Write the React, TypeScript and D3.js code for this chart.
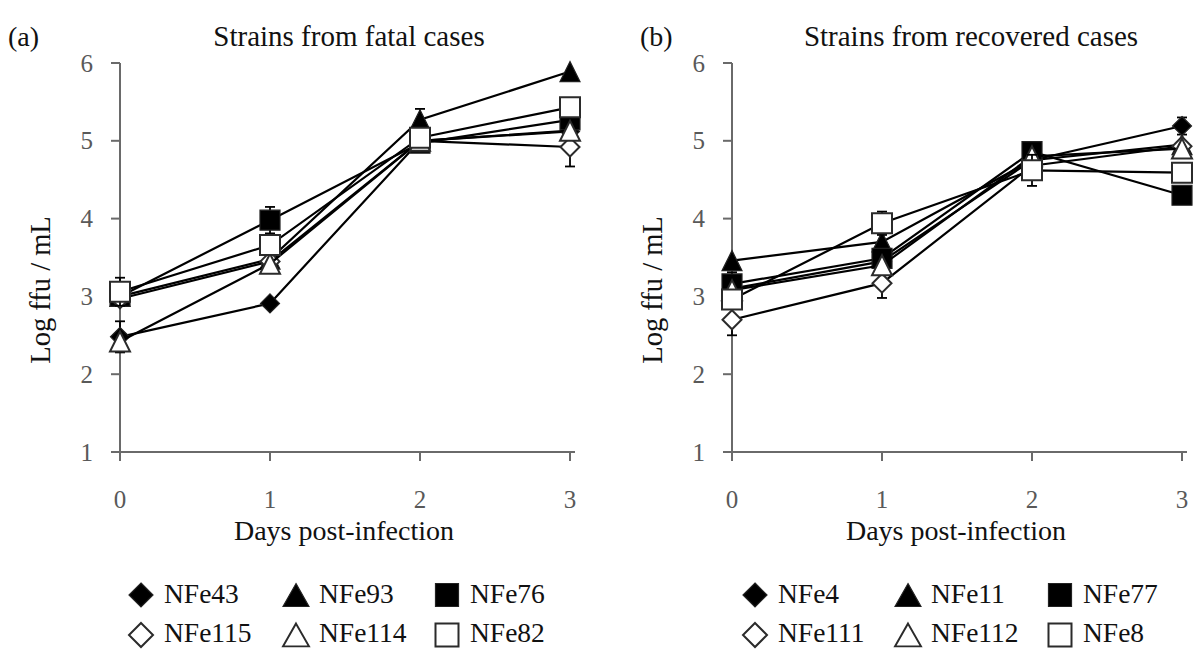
import React from "react";
import * as d3 from "d3";

// ---------- data ----------
const days = [0, 1, 2, 3];
const yTickValues = [1, 2, 3, 4, 5, 6];

// Panel (a): strains from fatal cases
const fatalTitle = "Strains from fatal cases";
const fatalNames = ["NFe43", "NFe93", "NFe76", "NFe115", "NFe114", "NFe82"];
const fatalNFe43 = [2.48, 2.91, 5.0, 5.12];
const fatalNFe93 = [3.0, 3.48, 5.27, 5.89];
const fatalNFe76 = [3.0, 3.98, 4.97, 5.27];
const fatalNFe115 = [2.97, 3.45, 5.0, 4.92];
const fatalNFe114 = [2.42, 3.42, 5.0, 5.13];
const fatalNFe82 = [3.06, 3.66, 5.04, 5.43];
const fatalErrNFe43 = [0.2, 0, 0, 0];
const fatalErrNFe93 = [0, 0, 0.14, 0];
const fatalErrNFe76 = [0, 0.17, 0, 0];
const fatalErrNFe115 = [0, 0, 0, 0.25];
const fatalErrNFe114 = [0, 0.12, 0, 0];
const fatalErrNFe82 = [0.18, 0, 0, 0];

// Panel (b): strains from recovered cases
const recTitle = "Strains from recovered cases";
const recNames = ["NFe4", "NFe11", "NFe77", "NFe111", "NFe112", "NFe8"];
const recNFe4 = [3.1, 3.45, 4.75, 5.19];
const recNFe11 = [3.46, 3.7, 4.75, 4.95];
const recNFe77 = [3.16, 3.49, 4.86, 4.3];
const recNFe111 = [2.7, 3.17, 4.68, 4.93];
const recNFe112 = [3.08, 3.4, 4.8, 4.9];
const recNFe8 = [2.96, 3.94, 4.62, 4.59];
const recErrNFe4 = [0, 0, 0, 0.11];
const recErrNFe11 = [0, 0, 0, 0];
const recErrNFe77 = [0.15, 0, 0.12, 0];
const recErrNFe111 = [0.2, 0.19, 0, 0];
const recErrNFe112 = [0, 0, 0, 0];
const recErrNFe8 = [0, 0.15, 0.2, 0];

const xTitle = "Days post-infection";
const yTitle = "Log ffu / mL";

// marker styles per series order
const shapes = ["diamond", "triangle", "square", "diamond", "triangle", "square"];
const filled = [true, true, true, false, false, false];

const FONT = "'Liberation Serif', 'Times New Roman', serif";
const AXIS_COLOR = "#6a6a6a";
const TICK_TEXT = "#595959";

function markerPath(shape: string, s: number): string {
  if (shape === "diamond") return `M0,${-s}L${s},0L0,${s}L${-s},0Z`;
  if (shape === "triangle") return `M0,${-s}L${s},${s}L${-s},${s}Z`;
  return `M${-s},${-s}H${s}V${s}H${-s}Z`;
}

function markerHalf(shape: string, legend: boolean): number {
  if (legend) return shape === "diamond" ? 12 : shape === "triangle" ? 13 : 11.5;
  return shape === "diamond" ? 9.5 : 10;
}

function Marker({ shape, fill, cx, cy, legend = false }: any) {
  const s = markerHalf(shape, legend);
  const sy = shape === "triangle" && legend ? 0.88 : 1;
  return (
    <path
      d={markerPath(shape, s)}
      transform={`translate(${cx},${cy}) scale(1,${sy})`}
      fill={fill ? "#000" : "#fff"}
      stroke={fill ? "#222" : "#2b2b2b"}
      strokeWidth={fill ? 1.2 : 2}
      strokeLinejoin="miter"
    />
  );
}

function Panel({ ox, tag, tagX, title, titleShift, names, series, errors, legendX }: any) {
  const x = d3.scaleLinear().domain([0, 3]).range([120 + ox, 570 + ox]);
  const y = d3.scaleLinear().domain([1, 6]).range([452, 63]);
  const line = d3
    .line<number>()
    .x((_, i) => x(days[i]))
    .y((d) => y(d));

  return (
    <g>
      <text x={tagX} y={46} fontFamily={FONT} fontSize={28} fill="#111">
        {tag}
      </text>
      <text
        x={(x(0) + x(3)) / 2 + titleShift}
        y={46}
        fontFamily={FONT}
        fontSize={29}
        fill="#111"
        textAnchor="middle"
      >
        {title}
      </text>

      {/* y axis */}
      <line x1={x(0)} x2={x(0)} y1={y(6)} y2={y(1) + 8} stroke={AXIS_COLOR} strokeWidth={2} />
      {yTickValues.map((t) => (
        <g key={"yt" + t}>
          <line x1={x(0) - 9} x2={x(0)} y1={y(t)} y2={y(t)} stroke={AXIS_COLOR} strokeWidth={2} />
          <text
            x={x(0) - 27}
            y={y(t) + 8.5}
            fontFamily={FONT}
            fontSize={25}
            fill={TICK_TEXT}
            textAnchor="end"
          >
            {t}
          </text>
        </g>
      ))}
      {/* x axis */}
      <line x1={x(0) - 8} x2={x(3) + 5} y1={y(1)} y2={y(1)} stroke={AXIS_COLOR} strokeWidth={2} />
      {days.map((d) => (
        <g key={"xt" + d}>
          <line x1={x(d)} x2={x(d)} y1={y(1)} y2={y(1) + 9} stroke={AXIS_COLOR} strokeWidth={2} />
          <text x={x(d)} y={508} fontFamily={FONT} fontSize={25} fill={TICK_TEXT} textAnchor="middle">
            {d}
          </text>
        </g>
      ))}
      <text x={(x(0) + x(3)) / 2 - 1} y={540} fontFamily={FONT} fontSize={28} fill="#111" textAnchor="middle">
        {xTitle}
      </text>
      <text
        transform={`translate(${50 + ox},${290}) rotate(-90)`}
        fontFamily={FONT}
        fontSize={28.5}
        fill="#111"
        textAnchor="middle"
      >
        {yTitle}
      </text>

      {/* series */}
      {series.map((vals: number[], si: number) => (
        <g key={"s" + si}>
          <path d={line(vals) || ""} fill="none" stroke="#000" strokeWidth={2.2} />
          {vals.map((v, i) =>
            errors[si][i] > 0 ? (
              <g key={"e" + i} stroke="#000" strokeWidth={1.8}>
                <line x1={x(days[i])} x2={x(days[i])} y1={y(v - errors[si][i])} y2={y(v + errors[si][i])} />
                <line x1={x(days[i]) - 5} x2={x(days[i]) + 5} y1={y(v + errors[si][i])} y2={y(v + errors[si][i])} />
                <line x1={x(days[i]) - 5} x2={x(days[i]) + 5} y1={y(v - errors[si][i])} y2={y(v - errors[si][i])} />
              </g>
            ) : null
          )}
          {vals.map((v, i) => (
            <Marker key={"m" + i} shape={shapes[si]} fill={filled[si]} cx={x(days[i])} cy={y(v)} />
          ))}
        </g>
      ))}

      {/* legend */}
      {names.map((n: string, i: number) => {
        const col = i % 3;
        const row = Math.floor(i / 3);
        const cy = row === 0 ? 595 : 635;
        const mx = legendX[col];
        return (
          <g key={"l" + i}>
            <Marker shape={shapes[i]} fill={filled[i]} cx={mx} cy={cy} legend />
            <text x={mx + 23} y={row === 0 ? 603 : 642} fontFamily={FONT} fontSize={27.5} fill="#111">
              {n}
            </text>
          </g>
        );
      })}
    </g>
  );
}

export default function App() {
  const fatalSeries = [fatalNFe43, fatalNFe93, fatalNFe76, fatalNFe115, fatalNFe114, fatalNFe82];
  const fatalErrors = [fatalErrNFe43, fatalErrNFe93, fatalErrNFe76, fatalErrNFe115, fatalErrNFe114, fatalErrNFe82];
  const recSeries = [recNFe4, recNFe11, recNFe77, recNFe111, recNFe112, recNFe8];
  const recErrors = [recErrNFe4, recErrNFe11, recErrNFe77, recErrNFe111, recErrNFe112, recErrNFe8];
  return (
    <svg
      width={1195}
      height={651}
      viewBox="0 0 1195 651"
      style={{ position: "absolute", left: 0, top: 0, background: "#fff" }}
    >
      <rect width={1195} height={651} fill="#fff" />
      <Panel
        ox={0}
        tag="(a)"
        tagX={8}
        title={fatalTitle}
        titleShift={4}
        names={fatalNames}
        series={fatalSeries}
        errors={fatalErrors}
        legendX={[141, 296, 447]}
      />
      <Panel
        ox={612}
        tag="(b)"
        tagX={640}
        title={recTitle}
        titleShift={14}
        names={recNames}
        series={recSeries}
        errors={recErrors}
        legendX={[755, 908, 1060]}
      />
    </svg>
  );
}
